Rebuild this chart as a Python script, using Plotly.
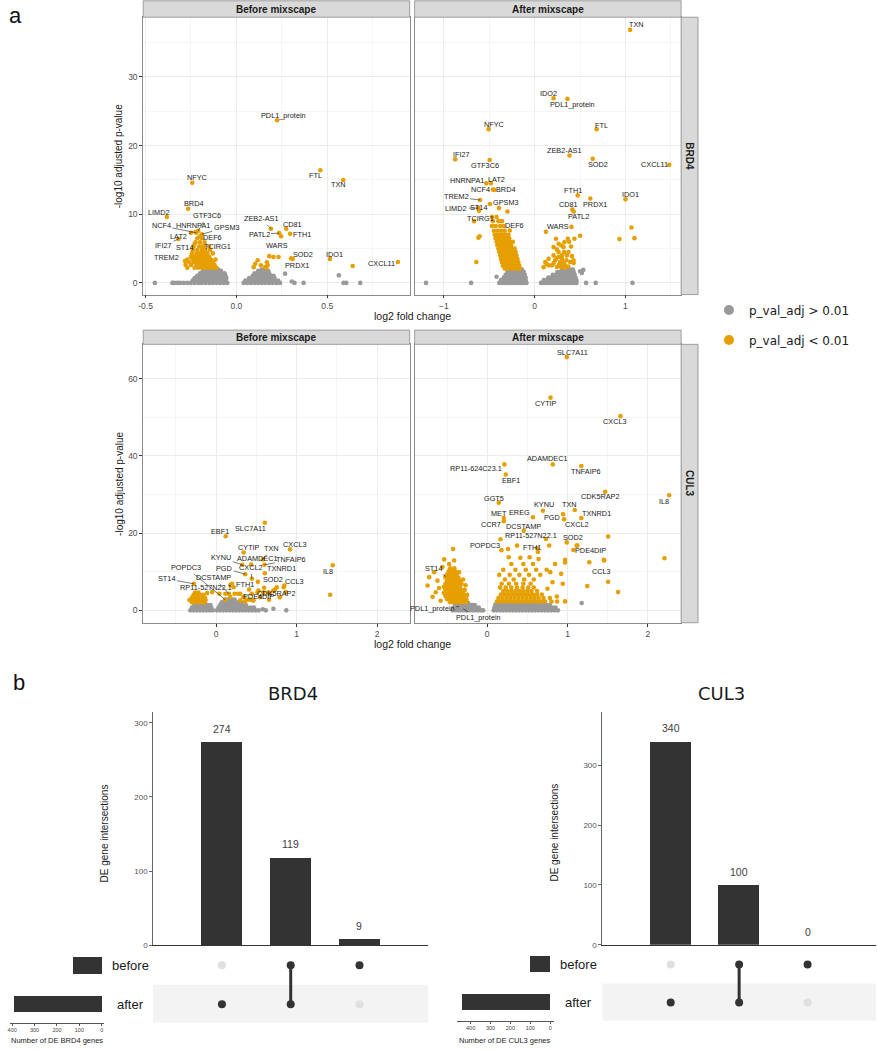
import plotly.graph_objects as go

W, H = 877, 1050
FONT = "Liberation Sans, Arial, Helvetica, sans-serif"
FONT2 = "DejaVu Sans, Verdana, sans-serif"
ORANGE = "#E69F00"
GREY = "#999999"
DARK = "#333333"
SIG_THRESHOLD = 2.0  # -log10(0.01)

# ---------------- Panel a data: (log2 fold change, -log10 adjusted p) ----------------
# BRD4, before mixscape
brd4_before_genes = ["PDL1_protein", "FTL", "TXN", "NFYC", "BRD4", "LIMD2", "GTF3C6", "NCF4", "HNRNPA1", "GPSM3",
                     "LAT2", "DEF6", "IFI27", "ST14", "TCIRG1", "TREM2", "ZEB2-AS1", "CD81", "PATL2", "FTH1",
                     "WARS", "SOD2", "PRDX1", "IDO1", "CXCL11"]
brd4_before_lfc = [0.224, 0.462, 0.588, -0.243, -0.266, -0.383, -0.21, -0.22, -0.225, -0.19,
                   -0.25, -0.20, -0.319, -0.23, -0.19, -0.283, 0.19, 0.274, 0.235, 0.296,
                   0.246, 0.31, 0.301, 0.515, 0.889]
brd4_before_logp = [23.7, 16.4, 15.0, 14.6, 10.8, 9.6, 7.6, 7.3, 7.4, 7.1,
                    7.3, 6.8, 6.4, 5.7, 5.3, 3.2, 7.9, 7.9, 7.25, 7.15,
                    6.8, 3.5, 3.6, 3.5, 3.04]
brd4_before_sig = [
    (-0.27, 2.2), (-0.23, 2.2), (-0.21, 2.2), (-0.19, 2.2), (-0.17, 2.2), (-0.15, 2.2), (-0.13, 2.2), (-0.11, 2.2),
    (-0.28, 2.6), (-0.25, 2.6), (-0.22, 2.6), (-0.2, 2.6), (-0.18, 2.6), (-0.16, 2.6), (-0.14, 2.6), (-0.12, 2.6),
    (-0.26, 3.0), (-0.235, 3.0), (-0.21, 3.0), (-0.19, 3.0), (-0.17, 3.0), (-0.15, 3.0), (-0.13, 3.0),
    (-0.27, 3.4), (-0.24, 3.4), (-0.22, 3.4), (-0.2, 3.4), (-0.18, 3.4), (-0.16, 3.4), (-0.14, 3.4), (-0.115, 3.4),
    (-0.25, 3.8), (-0.23, 3.8), (-0.21, 3.8), (-0.19, 3.8), (-0.17, 3.8), (-0.15, 3.8),
    (-0.245, 4.3), (-0.22, 4.3), (-0.2, 4.3), (-0.18, 4.3), (-0.16, 4.3), (-0.13, 4.3),
    (-0.24, 4.8), (-0.215, 4.8), (-0.19, 4.8), (-0.17, 4.8), (-0.145, 4.8),
    (-0.235, 5.3), (-0.205, 5.3), (-0.18, 5.3), (-0.15, 5.3),
    (-0.225, 5.9), (-0.2, 5.9), (-0.175, 5.9),
    (-0.215, 6.5), (-0.19, 6.5),
    (0.095, 2.3), (0.104, 2.8), (0.117, 3.3), (0.135, 2.56), (0.164, 2.17), (0.172, 2.56), (0.181, 3.9),
    (0.204, 3.77), (0.232, 3.77), (0.168, 3.0), (0.159, 2.3), (0.64, 2.46),
]
brd4_before_ns = [
    (-0.449, 0), (-0.352, 0), (-0.343, 0), (-0.325, 0), (-0.31, 0), (-0.29, 0), (-0.27, 0),
    (-0.25, 0), (-0.23, 0), (-0.21, 0), (-0.19, 0), (-0.17, 0), (-0.15, 0), (-0.13, 0), (-0.11, 0), (-0.09, 0), (-0.07, 0), (-0.05, 0),
    (-0.24, 0.35), (-0.22, 0.35), (-0.20, 0.35), (-0.18, 0.35), (-0.16, 0.35), (-0.14, 0.35), (-0.12, 0.35), (-0.10, 0.35), (-0.08, 0.35), (-0.06, 0.35),
    (-0.23, 0.7), (-0.21, 0.7), (-0.19, 0.7), (-0.17, 0.7), (-0.15, 0.7), (-0.13, 0.7), (-0.11, 0.7), (-0.09, 0.7), (-0.07, 0.7), (-0.055, 0.7),
    (-0.215, 1.05), (-0.195, 1.05), (-0.175, 1.05), (-0.155, 1.05), (-0.135, 1.05), (-0.115, 1.05), (-0.095, 1.05), (-0.075, 1.05), (-0.06, 1.05),
    (-0.2, 1.4), (-0.18, 1.4), (-0.16, 1.4), (-0.14, 1.4), (-0.12, 1.4), (-0.10, 1.4), (-0.08, 1.4), (-0.065, 1.4),
    (-0.185, 1.75), (-0.165, 1.75), (-0.145, 1.75), (-0.125, 1.75), (-0.105, 1.75), (-0.085, 1.75),
    (-0.16, 1.95), (-0.14, 1.95), (-0.12, 1.95), (-0.10, 1.95),
    (0.04, 0), (0.06, 0), (0.08, 0), (0.10, 0), (0.12, 0), (0.14, 0), (0.16, 0), (0.18, 0), (0.20, 0), (0.22, 0), (0.24, 0),
    (0.05, 0.35), (0.07, 0.35), (0.09, 0.35), (0.11, 0.35), (0.13, 0.35), (0.15, 0.35), (0.17, 0.35), (0.19, 0.35), (0.21, 0.35), (0.23, 0.35),
    (0.07, 0.7), (0.09, 0.7), (0.11, 0.7), (0.13, 0.7), (0.15, 0.7), (0.17, 0.7), (0.19, 0.7), (0.21, 0.7),
    (0.09, 1.05), (0.11, 1.05), (0.13, 1.05), (0.15, 1.05), (0.17, 1.05), (0.19, 1.05), (0.205, 1.05),
    (0.10, 1.4), (0.12, 1.4), (0.14, 1.4), (0.16, 1.4), (0.18, 1.4),
    (0.12, 1.75), (0.14, 1.75), (0.16, 1.75), (0.175, 1.75),
    (0.14, 1.95), (0.16, 1.95),
    (0.268, 1.35), (0.305, 0.2), (0.32, 0), (0.37, 0), (0.564, 1.1), (0.59, 0), (0.605, 0), (0.682, 0),
]

# BRD4, after mixscape
brd4_after_genes = ["TXN", "IDO2", "PDL1_protein", "NFYC", "FTL", "IFI27", "GTF3C6", "ZEB2-AS1", "SOD2", "CXCL11",
                    "HNRNPA1", "LAT2", "NCF4", "BRD4", "FTH1", "IDO1", "TREM2", "GPSM3", "PRDX1", "CD81",
                    "LIMD2", "ST14", "PATL2", "TCIRG1", "DEF6", "WARS"]
brd4_after_lfc = [1.051, 0.208, 0.361, -0.507, 0.682, -0.876, -0.496, 0.383, 0.639, 1.482,
                  -0.533, -0.482, -0.46, -0.445, 0.474, 1.0, -0.602, -0.493, 0.613, 0.415,
                  -0.62, -0.613, 0.43, -0.668, -0.274, 0.405]
brd4_after_logp = [36.86, 26.9, 26.8, 22.4, 22.4, 18.0, 17.9, 18.55, 18.07, 17.2,
                   14.5, 14.5, 13.6, 13.55, 12.75, 12.17, 12.08, 11.5, 12.3, 10.7,
                   10.9, 10.5, 10.4, 9.0, 7.63, 8.16]
brd4_after_sig = [
    (-0.606, 6.8), (-0.62, 6.57), (-0.642, 3.04), (-0.3, 10.4), (-0.394, 10.9),
    (1.066, 8.07), (1.099, 6.52), (0.934, 6.38), (0.5, 6.86), (0.438, 6.43), (0.365, 6.43), (0.124, 7.44),
    (-0.33, 2.1), (-0.30, 2.1), (-0.27, 2.1), (-0.24, 2.1), (-0.21, 2.1), (-0.18, 2.1), (-0.16, 2.1),
    (-0.35, 2.5), (-0.32, 2.5), (-0.29, 2.5), (-0.26, 2.5), (-0.23, 2.5), (-0.20, 2.5), (-0.17, 2.5),
    (-0.36, 3.0), (-0.33, 3.0), (-0.30, 3.0), (-0.27, 3.0), (-0.24, 3.0), (-0.21, 3.0), (-0.18, 3.0),
    (-0.37, 3.5), (-0.34, 3.5), (-0.31, 3.5), (-0.28, 3.5), (-0.25, 3.5), (-0.22, 3.5), (-0.19, 3.5),
    (-0.38, 4.0), (-0.35, 4.0), (-0.32, 4.0), (-0.29, 4.0), (-0.26, 4.0), (-0.23, 4.0), (-0.20, 4.0),
    (-0.39, 4.5), (-0.36, 4.5), (-0.33, 4.5), (-0.30, 4.5), (-0.27, 4.5), (-0.24, 4.5), (-0.21, 4.5),
    (-0.40, 5.0), (-0.37, 5.0), (-0.34, 5.0), (-0.31, 5.0), (-0.28, 5.0), (-0.25, 5.0), (-0.22, 5.0),
    (-0.41, 5.5), (-0.38, 5.5), (-0.35, 5.5), (-0.32, 5.5), (-0.29, 5.5), (-0.26, 5.5),
    (-0.42, 6.0), (-0.39, 6.0), (-0.36, 6.0), (-0.33, 6.0), (-0.30, 6.0), (-0.27, 6.0), (-0.24, 6.0),
    (-0.43, 6.5), (-0.40, 6.5), (-0.37, 6.5), (-0.34, 6.5), (-0.31, 6.5), (-0.28, 6.5),
    (-0.44, 7.0), (-0.41, 7.0), (-0.38, 7.0), (-0.35, 7.0), (-0.32, 7.0), (-0.29, 7.0),
    (-0.45, 7.6), (-0.41, 7.6), (-0.37, 7.6), (-0.33, 7.6),
    (-0.47, 8.3), (-0.43, 8.3), (-0.38, 8.3), (-0.34, 8.3),
    (-0.46, 9.0), (-0.40, 9.0), (-0.36, 9.0),
    (-0.47, 9.6), (-0.42, 9.6),
    (0.234, 6.43), (0.263, 5.7), (0.292, 5.46), (0.318, 5.22), (0.245, 4.88), (0.325, 4.49), (0.208, 4.01),
    (0.263, 3.77), (0.299, 4.01), (0.354, 4.01), (0.226, 3.29), (0.281, 3.04), (0.318, 3.04), (0.117, 3.04),
    (0.153, 2.56), (0.19, 2.56), (0.245, 2.32), (0.292, 2.32), (0.336, 2.56), (0.391, 3.04), (0.427, 3.29),
    (0.372, 4.49), (0.328, 5.94), (0.263, 4.49), (0.208, 5.22), (0.153, 3.53), (0.099, 2.3), (0.13, 2.8),
    (0.27, 2.7), (0.31, 2.9), (0.35, 3.3), (0.24, 3.6), (0.3, 3.6), (0.21, 2.9), (0.33, 2.2), (0.37, 2.4),
    (0.43, 2.9), (0.41, 3.9), (0.40, 5.3), (0.38, 6.0),
]
brd4_after_ns = [
    (-1.197, 0), (-0.70, 0), (-0.42, 0.9),
    (-0.39, 0), (-0.36, 0), (-0.33, 0), (-0.30, 0), (-0.27, 0), (-0.24, 0), (-0.21, 0), (-0.18, 0), (-0.15, 0), (-0.12, 0), (-0.09, 0),
    (-0.37, 0.4), (-0.34, 0.4), (-0.31, 0.4), (-0.28, 0.4), (-0.25, 0.4), (-0.22, 0.4), (-0.19, 0.4), (-0.16, 0.4), (-0.13, 0.4), (-0.10, 0.4),
    (-0.34, 0.8), (-0.31, 0.8), (-0.28, 0.8), (-0.25, 0.8), (-0.22, 0.8), (-0.19, 0.8), (-0.16, 0.8), (-0.13, 0.8), (-0.10, 0.8),
    (-0.32, 1.2), (-0.29, 1.2), (-0.26, 1.2), (-0.23, 1.2), (-0.20, 1.2), (-0.17, 1.2), (-0.14, 1.2), (-0.11, 1.2),
    (-0.30, 1.6), (-0.27, 1.6), (-0.24, 1.6), (-0.21, 1.6), (-0.18, 1.6), (-0.15, 1.6), (-0.12, 1.6),
    (-0.26, 1.95), (-0.23, 1.95), (-0.20, 1.95), (-0.17, 1.95), (-0.14, 1.95),
    (0.07, 0), (0.10, 0), (0.13, 0), (0.16, 0), (0.19, 0), (0.22, 0), (0.25, 0), (0.28, 0), (0.31, 0), (0.34, 0), (0.37, 0), (0.40, 0), (0.43, 0), (0.46, 0),
    (0.10, 0.4), (0.13, 0.4), (0.16, 0.4), (0.19, 0.4), (0.22, 0.4), (0.25, 0.4), (0.28, 0.4), (0.31, 0.4), (0.34, 0.4), (0.37, 0.4), (0.40, 0.4), (0.43, 0.4), (0.46, 0.4),
    (0.15, 0.8), (0.18, 0.8), (0.21, 0.8), (0.24, 0.8), (0.27, 0.8), (0.30, 0.8), (0.33, 0.8), (0.36, 0.8), (0.39, 0.8), (0.42, 0.8), (0.45, 0.8),
    (0.20, 1.2), (0.23, 1.2), (0.26, 1.2), (0.29, 1.2), (0.32, 1.2), (0.35, 1.2), (0.38, 1.2), (0.41, 1.2), (0.44, 1.2),
    (0.25, 1.6), (0.28, 1.6), (0.31, 1.6), (0.34, 1.6), (0.37, 1.6), (0.40, 1.6), (0.43, 1.6),
    (0.30, 1.95), (0.33, 1.95), (0.36, 1.95), (0.39, 1.95), (0.42, 1.95),
    (0.50, 1.7), (0.535, 1.9), (0.52, 1.45), (0.566, 0), (0.672, 0), (1.077, 0),
]

# CUL3, before mixscape
cul3_before_genes = ["SLC7A11", "EBF1", "CXCL3", "CYTIP", "TXN", "KYNU", "ADAMDEC1", "TNFAIP6", "PGD", "CXCL2",
                     "TXNRD1", "IL8", "POPDC3", "ST14", "DCSTAMP", "SOD2", "CCL3", "FTH1", "RP11-527N22.1",
                     "CDK5RAP2", "PDE4DIP"]
cul3_before_lfc = [0.605, 0.119, 0.918, 0.342, 0.58, 0.325, 0.436, 0.60, 0.362, 0.444,
                   0.605, 1.449, 0.115, -0.276, 0.16, 0.519, 0.848, 0.41, 0.177, 0.712, 0.514]
cul3_before_logp = [22.7, 19.2, 15.8, 15.0, 13.2, 11.8, 11.87, 11.8, 9.37, 8.17,
                    9.63, 11.7, 2.75, 6.88, 4.3, 7.39, 6.45, 5.4, 6.6, 5.16, 4.7]
cul3_before_sig = [
    (1.416, 4.04),
    (-0.111, 4.47), (-0.049, 4.73), (0.041, 4.3), (0.177, 3.44), (0.272, 4.3), (0.346, 3.44), (0.457, 2.58),
    (0.597, 5.85), (0.658, 2.75), (0.733, 5.42), (0.794, 3.44), (0.868, 4.73), (0.198, 6.88), (0.23, 4.3),
    (0.3, 2.6), (0.383, 2.75), (0.42, 2.75), (0.527, 5.16), (0.65, 4.7), (0.753, 6.0),
    (0.116, 4.3), (0.218, 6.0), (0.341, 3.4), (0.444, 4.3), (0.36, 2.2), (0.465, 2.6), (0.547, 3.4),
    (0.588, 4.7), (0.67, 4.4), (0.79, 3.4), (0.84, 6.0), (0.3, 4.3),
    (-0.30, 2.1), (-0.26, 2.1), (-0.22, 2.1), (-0.18, 2.1), (-0.14, 2.1),
    (-0.33, 2.7), (-0.29, 2.7), (-0.25, 2.7), (-0.21, 2.7), (-0.17, 2.7), (-0.13, 2.7),
    (-0.30, 3.3), (-0.26, 3.3), (-0.22, 3.3), (-0.18, 3.3), (-0.14, 3.3),
    (-0.28, 4.0), (-0.24, 4.0), (-0.20, 4.0), (-0.16, 4.0),
    (-0.26, 4.6), (-0.22, 4.6),
]
cul3_before_ns = [
    (-0.32, 0), (-0.28, 0), (-0.24, 0), (-0.20, 0), (-0.16, 0), (-0.12, 0), (-0.08, 0), (-0.04, 0),
    (-0.30, 0.7), (-0.26, 0.7), (-0.22, 0.7), (-0.18, 0.7), (-0.14, 0.7), (-0.10, 0.7), (-0.06, 0.7),
    (-0.27, 1.4), (-0.23, 1.4), (-0.19, 1.4), (-0.15, 1.4), (-0.11, 1.4), (-0.07, 1.4),
    (0.01, 0), (0.05, 0), (0.09, 0), (0.13, 0), (0.17, 0), (0.21, 0), (0.25, 0), (0.29, 0), (0.33, 0), (0.37, 0), (0.41, 0), (0.45, 0), (0.49, 0), (0.53, 0),
    (0.03, 0.7), (0.07, 0.7), (0.11, 0.7), (0.15, 0.7), (0.19, 0.7), (0.23, 0.7), (0.27, 0.7), (0.31, 0.7), (0.35, 0.7), (0.39, 0.7), (0.43, 0.7), (0.47, 0.7),
    (0.05, 1.4), (0.09, 1.4), (0.13, 1.4), (0.17, 1.4), (0.21, 1.4), (0.25, 1.4), (0.29, 1.4), (0.33, 1.4), (0.37, 1.4),
    (0.07, 2.1), (0.11, 2.1), (0.15, 2.1), (0.19, 2.1), (0.23, 2.1), (0.27, 2.1), (0.31, 2.1),
    (0.11, 2.8), (0.15, 2.8), (0.19, 2.8), (0.23, 2.8),
    (0.617, 0), (0.712, 0.43), (0.872, 0), (0.58, 0.3),
]

# CUL3, after mixscape
cul3_after_genes = ["SLC7A11", "CYTIP", "CXCL3", "ADAMDEC1", "RP11-624C23.1", "TNFAIP6", "EBF1", "CDK5RAP2", "IL8",
                    "GGT5", "KYNU", "TXN", "MET", "EREG", "PGD", "TXNRD1", "CXCL2", "CCR7", "DCSTAMP",
                    "RP11-527N22.1", "SOD2", "POPDC3", "FTH1", "PDE4DIP", "CCL3", "ST14", "PDL1_protein",
                    "PDL1_protein"]
cul3_after_lfc = [0.99, 0.788, 1.658, 0.816, 0.214, 1.171, 0.231, 1.468, 2.264,
                  0.144, 0.693, 1.089, 0.206, 0.569, 0.944, 1.171, 0.957, 0.206, 0.454,
                  0.73, 0.99, 0.165, 0.631, 1.122, 1.456, -0.515, -0.35, -0.30]
cul3_after_logp = [65.6, 55.1, 50.3, 37.8, 37.8, 37.4, 35.2, 30.7, 29.8,
                   27.9, 25.8, 26.0, 23.9, 24.1, 24.9, 23.9, 23.6, 23.1, 20.6,
                   18.5, 17.6, 18.4, 15.1, 16.8, 12.9, 8.77, 1.0, 0.4]
cul3_after_sig = [
    (-0.46, 2.1), (-0.42, 2.1), (-0.38, 2.1), (-0.34, 2.1), (-0.30, 2.1), (-0.26, 2.1),
    (-0.50, 2.9), (-0.46, 2.9), (-0.42, 2.9), (-0.38, 2.9), (-0.34, 2.9), (-0.30, 2.9), (-0.26, 2.9),
    (-0.52, 3.7), (-0.48, 3.7), (-0.44, 3.7), (-0.40, 3.7), (-0.36, 3.7), (-0.32, 3.7), (-0.28, 3.7),
    (-0.54, 4.5), (-0.50, 4.5), (-0.46, 4.5), (-0.42, 4.5), (-0.38, 4.5), (-0.34, 4.5), (-0.30, 4.5),
    (-0.52, 5.3), (-0.48, 5.3), (-0.44, 5.3), (-0.40, 5.3), (-0.36, 5.3), (-0.32, 5.3), (-0.28, 5.3),
    (-0.54, 6.1), (-0.50, 6.1), (-0.46, 6.1), (-0.42, 6.1), (-0.38, 6.1), (-0.34, 6.1),
    (-0.52, 6.9), (-0.48, 6.9), (-0.44, 6.9), (-0.40, 6.9), (-0.36, 6.9), (-0.32, 6.9),
    (-0.50, 7.7), (-0.46, 7.7), (-0.42, 7.7), (-0.38, 7.7), (-0.34, 7.7),
    (-0.52, 8.5), (-0.48, 8.5), (-0.44, 8.5), (-0.40, 8.5), (-0.36, 8.5),
    (-0.50, 9.3), (-0.46, 9.3), (-0.42, 9.3), (-0.38, 9.3),
    (-0.48, 10.1), (-0.44, 10.1), (-0.40, 10.1),
    (-0.46, 10.9), (-0.41, 10.9),
    (-0.425, 15.9), (-0.536, 13.2), (-0.742, 6.45), (-0.722, 8.6), (-0.66, 9.9), (-0.557, 11.2), (-0.474, 12.0),
    (-0.412, 12.9), (-0.35, 9.9), (-0.619, 7.7), (-0.64, 4.7), (-0.58, 2.5), (-0.68, 3.5), (-0.3, 8.0),
    (-0.27, 6.5), (-0.25, 4.0), (-0.6, 5.8),
    (0.12, 2.3), (0.17, 2.3), (0.22, 2.3), (0.27, 2.3), (0.32, 2.3), (0.37, 2.3), (0.42, 2.3), (0.47, 2.3),
    (0.52, 2.3), (0.57, 2.3), (0.62, 2.3), (0.67, 2.3), (0.72, 2.3), (0.80, 2.3), (0.87, 2.3),
    (0.14, 3.2), (0.19, 3.2), (0.24, 3.2), (0.29, 3.2), (0.34, 3.2), (0.39, 3.2), (0.44, 3.2), (0.49, 3.2),
    (0.54, 3.2), (0.59, 3.2), (0.64, 3.2), (0.70, 3.2), (0.78, 3.2),
    (0.17, 4.1), (0.22, 4.1), (0.27, 4.1), (0.32, 4.1), (0.37, 4.1), (0.42, 4.1), (0.47, 4.1), (0.52, 4.1),
    (0.57, 4.1), (0.62, 4.1), (0.68, 4.1),
    (0.20, 5.0), (0.25, 5.0), (0.30, 5.0), (0.35, 5.0), (0.40, 5.0), (0.45, 5.0), (0.50, 5.0), (0.55, 5.0), (0.62, 5.0),
    (0.16, 5.9), (0.23, 5.9), (0.30, 5.9), (0.37, 5.9), (0.44, 5.9), (0.51, 5.9), (0.58, 5.9),
    (0.18, 6.9), (0.27, 6.9), (0.36, 6.9), (0.45, 6.9), (0.54, 6.9),
    (0.22, 8.0), (0.33, 8.0), (0.46, 8.0), (0.58, 8.0),
    (0.15, 9.2), (0.28, 9.2), (0.40, 9.2), (0.52, 9.2), (0.66, 9.2),
    (0.20, 10.5), (0.35, 10.5), (0.48, 10.5), (0.61, 10.5), (0.74, 10.5),
    (0.30, 12.0), (0.45, 12.0), (0.57, 12.0),
    (0.177, 15.6), (0.26, 15.9), (0.371, 16.77), (0.619, 16.1), (0.771, 16.8), (0.268, 13.76), (0.412, 13.6),
    (0.528, 13.76), (0.639, 13.3), (0.845, 12.0), (0.784, 9.9), (0.812, 7.3), (0.75, 5.6), (1.072, 15.65),
    (1.113, 16.77), (0.969, 12.38), (0.969, 13.07), (0.92, 9.46), (0.94, 6.88), (0.866, 3.61), (0.969, 2.32),
    (1.505, 19.1), (2.206, 13.5), (1.505, 7.39), (1.629, 4.73), (1.245, 6.28), (1.27, 12.47), (1.452, 13.07),
]
cul3_after_ns = [
    (-0.43, 0), (-0.395, 0), (-0.36, 0), (-0.325, 0), (-0.29, 0), (-0.255, 0), (-0.22, 0), (-0.185, 0), (-0.15, 0), (-0.115, 0), (-0.08, 0), (-0.05, 0),
    (-0.42, 0.7), (-0.385, 0.7), (-0.35, 0.7), (-0.315, 0.7), (-0.28, 0.7), (-0.245, 0.7), (-0.21, 0.7), (-0.175, 0.7), (-0.14, 0.7), (-0.105, 0.7),
    (-0.40, 1.4), (-0.365, 1.4), (-0.33, 1.4), (-0.295, 1.4), (-0.26, 1.4), (-0.225, 1.4), (-0.19, 1.4), (-0.155, 1.4),
    (-0.38, 1.95), (-0.345, 1.95), (-0.31, 1.95), (-0.275, 1.95), (-0.24, 1.95),
    (0.08, 0), (0.12, 0), (0.16, 0), (0.20, 0), (0.24, 0), (0.28, 0), (0.32, 0), (0.36, 0), (0.40, 0), (0.44, 0), (0.48, 0),
    (0.52, 0), (0.56, 0), (0.60, 0), (0.64, 0), (0.68, 0), (0.72, 0), (0.76, 0), (0.80, 0), (0.84, 0), (0.88, 0),
    (0.09, 0.7), (0.13, 0.7), (0.17, 0.7), (0.21, 0.7), (0.25, 0.7), (0.29, 0.7), (0.33, 0.7), (0.37, 0.7), (0.41, 0.7), (0.45, 0.7),
    (0.49, 0.7), (0.53, 0.7), (0.57, 0.7), (0.61, 0.7), (0.65, 0.7), (0.69, 0.7), (0.73, 0.7), (0.77, 0.7), (0.81, 0.7), (0.85, 0.7),
    (0.10, 1.4), (0.14, 1.4), (0.18, 1.4), (0.22, 1.4), (0.26, 1.4), (0.30, 1.4), (0.34, 1.4), (0.38, 1.4), (0.42, 1.4),
    (0.46, 1.4), (0.50, 1.4), (0.54, 1.4), (0.58, 1.4), (0.62, 1.4), (0.66, 1.4), (0.70, 1.4), (0.74, 1.4), (0.78, 1.4),
    (0.12, 1.95), (0.16, 1.95), (0.20, 1.95), (0.24, 1.95), (0.28, 1.95), (0.32, 1.95), (0.36, 1.95), (0.40, 1.95),
    (0.44, 1.95), (0.48, 1.95), (0.52, 1.95), (0.56, 1.95), (0.60, 1.95),
    (1.175, 1.9),
]

# ---------------- Panel b data: UpSet ----------------
upset_sets = ["before", "after"]
upset_intersections = [["after"], ["before", "after"], ["before"]]
brd4_counts = [274, 119, 9]
cul3_counts = [340, 100, 0]
bar_ticks = [0, 100, 200, 300]
set_size_ticks = [400, 300, 200, 100, 0]

# ---------------- label placement (style, px offsets) ----------------
# ("s", xshift, yshift-up) plain text; ("a", ax, ay-down) text with leader line
TL_LAB = [("s", 6, 5), ("s", -5, -5), ("s", -5, -5), ("s", 5, 5), ("s", 5, 5), ("s", -8, 5), ("a", 9, -15),
          ("a", -35, -7), ("s", -3, 7), ("a", 25, -7), ("a", -12, 4), ("s", 12, -1), ("a", -15, 7), ("s", -10, -4),
          ("s", 16, 0), ("s", -18, 3), ("a", -10, -10), ("s", 6, 4), ("a", -20, 1), ("s", 12, -1), ("s", -4, -9),
          ("s", 10, 4), ("s", 6, -7), ("s", 5, 4), ("s", -16, -1)]
TR_LAB = [("s", 6, 5), ("s", -5, 5), ("s", 5, -6), ("s", 5, 5), ("s", 5, 4), ("s", 6, 5), ("s", -5, -5),
          ("s", -5, 5), ("s", 5, -6), ("s", -15, 0), ("s", -19, 3), ("s", 6, 4), ("s", -12, 0), ("s", 11, 0),
          ("s", -5, 5), ("s", 5, 5), ("a", -24, -3), ("s", 16, 1), ("s", 5, -6), ("s", -4, 5), ("a", -22, 0),
          ("s", -1, 3), ("s", 5, -5), ("s", 6, 3), ("s", 5, 5), ("s", -13, 0)]
BL_LAB = [("s", -14, -6), ("s", -6, 5), ("s", 5, 5), ("s", 5, 5), ("a", 9, -11), ("a", -21, -7), ("s", 6, 6),
          ("a", 27, -5), ("a", -21, -6), ("a", -1, -11), ("s", 17, 5), ("s", -5, -6), ("a", -39, -32),
          ("a", -27, -5), ("a", -15, -16), ("s", 15, 2), ("s", 10, 4), ("s", -4, 5), ("s", -24, -3),
          ("s", 3, -3), ("s", 1, -4)]
BR_LAB = [("s", 6, 5), ("s", -5, -6), ("s", -5, -5), ("s", -5, 6), ("s", -28, -4), ("s", 5, -6), ("s", 5, -6),
          ("s", -5, -5), ("s", -5, -6), ("s", -5, 4), ("s", 1, 6), ("s", -5, 5), ("s", -5, 5), ("s", -13, 5),
          ("s", -11, -3), ("s", 15, 5), ("s", 13, -5), ("s", -13, -3), ("s", 0, 4), ("s", -15, 3), ("s", 6, 5),
          ("s", -15, -6), ("s", -6, 5), ("s", 13, -5), ("s", -3, -11), ("a", -12, -8), ("a", -27, 2), ("a", 15, 9)]


def fx(p):
    return p / W


def fy(p):
    return 1 - p / H


def note(x, y, text, size, family=FONT, color="#1A1A1A", angle=0, xref="paper", yref="paper"):
    return dict(x=x, y=y, xref=xref, yref=yref, text=text, showarrow=False, textangle=angle,
                xanchor="center", yanchor="middle", font=dict(size=size, family=family, color=color))


fig = go.Figure()
annotations = []
shapes = []

# legend proxies
fig.add_trace(go.Scatter(x=[None], y=[None], mode="markers", marker=dict(color=GREY, size=10),
                         name="p_val_adj > 0.01", legendgroup="ns", xaxis="x", yaxis="y"))
fig.add_trace(go.Scatter(x=[None], y=[None], mode="markers", marker=dict(color=ORANGE, size=10),
                         name="p_val_adj < 0.01", legendgroup="sig", xaxis="x", yaxis="y"))

volcano_panels = [
    ("x", "y", brd4_before_genes, brd4_before_lfc, brd4_before_logp, brd4_before_sig, brd4_before_ns, TL_LAB),
    ("x2", "y2", brd4_after_genes, brd4_after_lfc, brd4_after_logp, brd4_after_sig, brd4_after_ns, TR_LAB),
    ("x3", "y3", cul3_before_genes, cul3_before_lfc, cul3_before_logp, cul3_before_sig, cul3_before_ns, BL_LAB),
    ("x4", "y4", cul3_after_genes, cul3_after_lfc, cul3_after_logp, cul3_after_sig, cul3_after_ns, BR_LAB),
]

for xa, ya, genes, lfc, lp, sig, ns, labs in volcano_panels:
    ns_x = [p[0] for p in ns] + [a for a, b in zip(lfc, lp) if b <= SIG_THRESHOLD]
    ns_y = [p[1] for p in ns] + [b for a, b in zip(lfc, lp) if b <= SIG_THRESHOLD]
    sg_x = [p[0] for p in sig] + [a for a, b in zip(lfc, lp) if b > SIG_THRESHOLD]
    sg_y = [p[1] for p in sig] + [b for a, b in zip(lfc, lp) if b > SIG_THRESHOLD]
    fig.add_trace(go.Scatter(x=ns_x, y=ns_y, mode="markers", marker=dict(color=GREY, size=4.6),
                             xaxis=xa, yaxis=ya, showlegend=False, hoverinfo="skip"))
    fig.add_trace(go.Scatter(x=sg_x, y=sg_y, mode="markers", marker=dict(color=ORANGE, size=4.6),
                             xaxis=xa, yaxis=ya, showlegend=False, hoverinfo="skip"))
    for g, a, b, lab in zip(genes, lfc, lp, labs):
        mode, dx, dy = lab
        if mode == "a":
            ann = dict(x=a, y=b, xref=xa, yref=ya, text=g, font=dict(size=7.3, family=FONT, color="#1A1A1A"),
                       showarrow=True, ax=dx, ay=dy, arrowhead=0, arrowwidth=0.6, arrowcolor="#222222",
                       standoff=0, startstandoff=0)
        else:
            ann = note(a, b, g, 7.3, color="#1A1A1A", xref=xa, yref=ya)
            ann.update(xshift=dx, yshift=dy)
        annotations.append(ann)

common = dict(showline=True, mirror=True, linecolor="#8C8C8C", linewidth=0.8, showgrid=True,
              gridcolor="#EBEBEB", gridwidth=0.8, zeroline=False, ticks="outside", ticklen=3,
              tickwidth=0.7, tickcolor="#333333", tickfont=dict(size=8.5, color="#4D4D4D", family=FONT))

TOP = (17.3, 296.0)
BOT = (346.0, 625.7)
LEFT = (139.0, 407.0)
RIGHT = (412.0, 680.0)

layout = dict(
    width=W, height=H, margin=dict(l=0, r=0, t=0, b=0),
    paper_bgcolor="white", plot_bgcolor="white", showlegend=True,
    legend=dict(x=fx(708), y=fy(297), xanchor="left", yanchor="top",
                font=dict(family=FONT2, size=12, color="#1A1A1A"), tracegroupgap=11,
                traceorder="grouped", bgcolor="rgba(0,0,0,0)", itemsizing="trace"),
)
MINOR = dict(showgrid=True, gridcolor="#F5F5F5", ticks="")
layout["xaxis"] = dict(domain=[fx(LEFT[0]), fx(LEFT[1])], range=[-0.513, 0.954], anchor="y",
                       tickvals=[-0.5, 0, 0.5], ticktext=["-0.5", "0.0", "0.5"],
                       minor=dict(tickvals=[-0.25, 0.25, 0.75], **MINOR), **common)
layout["yaxis"] = dict(domain=[fy(TOP[1]), fy(TOP[0])], range=[-1.7, 38.7], anchor="x",
                       tickvals=[0, 10, 20, 30], minor=dict(tickvals=[5, 15, 25, 35], **MINOR), **common)
layout["xaxis2"] = dict(domain=[fx(RIGHT[0]), fx(RIGHT[1])], range=[-1.322, 1.613], anchor="y2",
                        tickvals=[-1, 0, 1], minor=dict(tickvals=[-0.5, 0.5, 1.5], **MINOR), **common)
c2 = dict(common)
c2.update(ticks="", showticklabels=False)
layout["yaxis2"] = dict(domain=[fy(TOP[1]), fy(TOP[0])], range=[-1.7, 38.7], anchor="x2",
                        tickvals=[0, 10, 20, 30], minor=dict(tickvals=[5, 15, 25, 35], **MINOR), **c2)
layout["xaxis3"] = dict(domain=[fx(LEFT[0]), fx(LEFT[1])], range=[-0.905, 2.404], anchor="y3",
                        tickvals=[0, 1, 2], minor=dict(tickvals=[-0.5, 0.5, 1.5], **MINOR), **common)
layout["yaxis3"] = dict(domain=[fy(BOT[1]), fy(BOT[0])], range=[-3.2, 68.9], anchor="x3",
                        tickvals=[0, 20, 40, 60], minor=dict(tickvals=[10, 30, 50], **MINOR), **common)
layout["xaxis4"] = dict(domain=[fx(RIGHT[0]), fx(RIGHT[1])], range=[-0.903, 2.413], anchor="y4",
                        tickvals=[0, 1, 2], minor=dict(tickvals=[-0.5, 0.5, 1.5], **MINOR), **common)
layout["yaxis4"] = dict(domain=[fy(BOT[1]), fy(BOT[0])], range=[-3.2, 68.9], anchor="x4",
                        tickvals=[0, 20, 40, 60], minor=dict(tickvals=[10, 30, 50], **MINOR), **c2)


def strip(x0, x1, y0, y1, text, angle=0):
    shapes.append(dict(type="rect", xref="paper", yref="paper", x0=fx(x0), x1=fx(x1), y0=fy(y1), y1=fy(y0),
                       fillcolor="#D9D9D9", line=dict(color="#8C8C8C", width=0.8), layer="above"))
    annotations.append(note(fx((x0 + x1) / 2), fy((y0 + y1) / 2), "<b>%s</b>" % text, 10, angle=angle))


strip(LEFT[0], LEFT[1], 0.8, 17.3, "Before mixscape")
strip(RIGHT[0], RIGHT[1], 0.8, 17.3, "After mixscape")
strip(RIGHT[1], 697, TOP[0], TOP[1], "BRD4", 90)
strip(LEFT[0], LEFT[1], 331.7, 346.0, "Before mixscape")
strip(RIGHT[0], RIGHT[1], 331.7, 346.0, "After mixscape")
strip(RIGHT[1], 697, BOT[0], BOT[1], "CUL3", 90)

for yc in [(TOP[0] + TOP[1]) / 2, (BOT[0] + BOT[1]) / 2]:
    annotations.append(note(fx(115), fy(yc), "-log10 adjusted p-value", 10, angle=-90))
for yc in [318, 647]:
    annotations.append(note(fx(409.5), fy(yc), "log2 fold change", 10.5))

annotations.append(note(fx(11), fy(16), "a", 22, color="#111111"))
annotations.append(note(fx(14), fy(686), "b", 22, color="#111111"))

# ---------------- UpSet plots ----------------
ROW_POS = {"before": 1, "after": 0}


def upset(counts, name, ids, bar_x, bar_y, mat_y, set_x, ymax, set_range, label_x, ytitle_x, title_x, sstitle_x):
    ib, im, iset = ids
    set_sizes = [sum(c for c, inter in zip(counts, upset_intersections) if s in inter) for s in upset_sets]
    cols = list(range(1, len(counts) + 1))
    fig.add_trace(go.Bar(x=cols, y=counts, width=0.6, marker=dict(color=DARK, line=dict(width=0)),
                         xaxis="x%d" % ib, yaxis="y%d" % ib, showlegend=False, hoverinfo="skip"))
    for c, v in zip(cols, counts):
        annotations.append(dict(x=c, y=v, xref="x%d" % ib, yref="y%d" % ib, text=str(v), showarrow=False,
                                xanchor="center", yanchor="bottom", yshift=5,
                                font=dict(size=10.5, family=FONT, color="#404040")))
    for c, inter in zip(cols, upset_intersections):
        if len(inter) > 1:
            fig.add_trace(go.Scatter(x=[c] * len(inter), y=[ROW_POS[s] for s in inter], mode="lines",
                                     line=dict(color=DARK, width=3), xaxis="x%d" % im, yaxis="y%d" % im,
                                     showlegend=False, hoverinfo="skip"))
    dx, dy, dc = [], [], []
    for c, inter in zip(cols, upset_intersections):
        for s in upset_sets:
            dx.append(c)
            dy.append(ROW_POS[s])
            dc.append(DARK if s in inter else "#E0E0E0")
    fig.add_trace(go.Scatter(x=dx, y=dy, mode="markers", marker=dict(color=dc, size=8),
                             xaxis="x%d" % im, yaxis="y%d" % im, showlegend=False, hoverinfo="skip"))
    fig.add_trace(go.Bar(x=set_sizes, y=[ROW_POS[s] for s in upset_sets], orientation="h", width=0.42,
                         marker=dict(color=DARK, line=dict(width=0)), xaxis="x%d" % iset, yaxis="y%d" % iset,
                         showlegend=False, hoverinfo="skip"))
    shapes.append(dict(type="rect", xref="x%d domain" % im, yref="y%d" % im, x0=0, x1=1, y0=-0.5, y1=0.5,
                       fillcolor="#F3F3F3", line=dict(width=0), layer="below"))
    for s in upset_sets:
        annotations.append(note(fx(label_x), ROW_POS[s], s, 13, yref="y%d" % im))
    hidden = dict(showgrid=False, zeroline=False, showticklabels=False, ticks="", showline=False)
    layout["xaxis%d" % ib] = dict(domain=[fx(bar_x[0]), fx(bar_x[1])], range=[0, 4], anchor="y%d" % ib,
                                  showgrid=False, zeroline=False, showticklabels=False, ticks="",
                                  showline=True, linecolor="#333333", linewidth=1)
    layout["yaxis%d" % ib] = dict(domain=[fy(bar_y[1]), fy(bar_y[0])], range=[0, ymax], anchor="x%d" % ib,
                                  showgrid=False, zeroline=False, showline=True, linecolor="#666666",
                                  linewidth=0.8, ticks="outside", ticklen=3, tickwidth=0.7, tickcolor="#666666",
                                  tickvals=bar_ticks, tickfont=dict(size=8, family=FONT, color="#555555"))
    layout["xaxis%d" % im] = dict(domain=[fx(bar_x[0]), fx(bar_x[1])], range=[0, 4], anchor="y%d" % im, **hidden)
    layout["yaxis%d" % im] = dict(domain=[fy(mat_y[1]), fy(mat_y[0])], range=[-0.48, 1.5],
                                  anchor="x%d" % im, **hidden)
    layout["xaxis%d" % iset] = dict(domain=[fx(set_x[0]), fx(set_x[1])], range=set_range, anchor="y%d" % iset,
                                    showgrid=False, zeroline=False, showline=True, linecolor="#555555",
                                    linewidth=0.8, ticks="outside", ticklen=2, tickwidth=0.6,
                                    tickcolor="#555555", tickvals=set_size_ticks,
                                    tickfont=dict(size=5.5, family=FONT, color="#444444"))
    layout["yaxis%d" % iset] = dict(domain=[fy(mat_y[1]), fy(mat_y[0])], range=[-0.48, 1.5],
                                    anchor="x%d" % iset, **hidden)
    annotations.append(note(fx(title_x), fy(697), name, 18, family=FONT2))
    annotations.append(note(fx(ytitle_x), fy(837), "DE gene intersections", 10, angle=-90))
    annotations.append(note(fx(sstitle_x), fy(1045), "Number of DE %s genes" % name, 7.5))


upset(brd4_counts, "BRD4", (5, 6, 7), (149, 425.7), (715, 950), (950.5, 1027.7), (5, 100), 315,
      [410, -12], 126, 100, 290, 52.7)
upset(cul3_counts, "CUL3", (8, 9, 10), (600.7, 876), (715, 949.3), (950, 1025.7), (455, 551.7), 390,
      [466.5, -17], 577, 551.7, 720.7, 503)

layout["annotations"] = annotations
layout["shapes"] = shapes
layout["bargap"] = 0
fig.update_layout(**layout)
fig.write_html("out.html", config={"displayModeBar": False},
               post_script="document.body.style.margin='0px';document.body.style.overflow='hidden';")
